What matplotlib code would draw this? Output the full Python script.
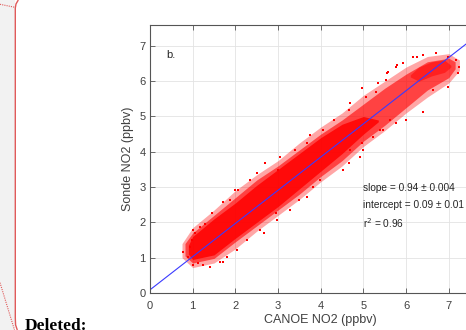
import matplotlib
matplotlib.use("Agg")
import matplotlib.pyplot as plt
import numpy as np

# ---- data ----
# outer (sparse) extent of the point cloud
out_x = [0.75, 1.0, 1.5, 2.0, 2.5, 3.0, 3.5, 4.0, 4.5, 5.0, 5.5, 6.0, 6.5, 7.0, 7.25]
out_lo = [1.00, 0.72, 0.85, 1.25, 1.75, 2.20, 2.65, 3.15, 3.60, 4.15, 4.60, 5.10, 5.55, 5.95, 6.30]
out_hi = [1.40, 1.85, 2.35, 2.90, 3.35, 3.75, 4.25, 4.70, 5.10, 5.60, 6.00, 6.40, 6.70, 6.78, 6.60]
# middle extent of the cloud
mid_x = [0.82, 1.0, 1.5, 2.0, 2.5, 3.0, 3.5, 4.0, 4.5, 5.0, 5.5, 6.0, 6.5, 7.0, 7.15]
mid_lo = [1.05, 0.85, 0.98, 1.45, 1.90, 2.35, 2.80, 3.30, 3.75, 4.30, 4.75, 5.25, 5.75, 6.10, 6.35]
mid_hi = [1.40, 1.70, 2.20, 2.70, 3.20, 3.60, 4.05, 4.50, 4.90, 5.35, 5.80, 6.20, 6.55, 6.65, 6.55]
# dense core of the cloud
core_x = [0.9, 1.0, 1.5, 2.0, 2.5, 3.0, 3.5, 4.0, 4.5, 5.0, 5.35]
core_lo = [1.10, 0.95, 1.08, 1.55, 2.00, 2.45, 2.95, 3.45, 3.95, 4.50, 4.85]
core_hi = [1.35, 1.60, 2.10, 2.55, 3.05, 3.50, 3.95, 4.40, 4.78, 5.00, 4.90]
# denser cluster near the top
cl_x = [6.1, 6.3, 6.6, 6.9, 7.05]
cl_lo = [6.12, 6.00, 6.15, 6.25, 6.40]
cl_hi = [6.18, 6.40, 6.55, 6.60, 6.45]
# scattered edge points
fringe_x = [0.78, 0.94, 0.90, 1.01, 1.13, 1.41, 1.64, 0.98, 1.05,
            1.01, 1.17, 1.45, 1.72, 1.87, 2.07, 2.34, 2.50, 2.70, 3.05, 3.40, 3.67, 3.75,
            1.80, 1.72, 2.27, 2.58, 2.66, 2.97, 3.28, 3.48, 3.67, 3.83, 3.98,
            4.67, 5.06, 5.30, 5.53, 5.57, 5.77, 5.92, 6.16, 6.39, 6.70, 6.98, 7.17, 7.25, 7.21,
            6.98, 6.62, 6.39, 6.00, 5.77, 5.45, 5.22, 4.98, 4.91, 4.67, 4.52, 6.25,
            4.96, 5.35, 5.55, 5.78, 4.69, 4.30, 4.06, 5.62, 5.39, 4.96, 4.69,
            2.00, 2.05, 3.00, 2.95, 1.25, 1.30]
fringe_y = [1.17, 1.31, 1.03, 0.79, 0.84, 0.75, 0.89, 1.50, 1.69,
            1.78, 1.88, 2.26, 2.59, 2.63, 2.92, 3.20, 3.39, 3.67, 3.86, 4.05, 4.24, 4.48,
            1.03, 0.89, 1.50, 1.78, 1.69, 2.07, 2.35, 2.63, 2.73, 3.01, 3.20,
            5.18, 5.56, 5.70, 6.03, 6.27, 6.41, 6.51, 6.69, 6.74, 6.79, 6.69, 6.60, 6.41, 6.22,
            5.84, 5.75, 5.14, 4.90, 4.81, 4.62, 4.43, 4.05, 3.86, 3.67, 3.48, 6.69,
            5.80, 5.94, 6.22, 6.46, 5.37, 4.90, 4.62, 4.90, 4.62, 4.24, 4.05,
            2.92, 1.22, 3.48, 2.27, 0.80, 1.95]
slope = 0.94
intercept = 0.09
fit_x = [0.0, 8.0]
x_ticks = [0, 1, 2, 3, 4, 5, 6, 7, 8]
y_ticks = [0, 1, 2, 3, 4, 5, 6, 7]
stats_lines = ["slope = 0.94 \u00b1 0.004", "intercept = 0.09 \u00b1 0.01", "r$^2$ = 0.96"]

plt.rcParams['font.family'] = ['Liberation Sans', 'DejaVu Sans']

W, H = 466, 330
fig = plt.figure(figsize=(W / 100, H / 100), dpi=100)

# ---- left margin: document comment pane ----
ov = fig.add_axes([0, 0, 1, 1], zorder=0)
ov.set_xlim(0, W)
ov.set_ylim(H, 0)
ov.axis('off')
ov.fill_between([0, 15.3], [0, 0], [H, H], color='#f2f2f2', lw=0)
ov.plot([18.3, 16.0, 15.3, 15.3, 15.6, 17.3], [0, 4, 8, 318, 325, 330],
        color='#e05a5a', lw=1.0, solid_capstyle='butt')
ov.plot([0, 15], [4.3, 7.3], color='#e05a5a', lw=0.8, ls=(0, (1, 1)))
ov.plot([0, 14.5], [282.7, 330], color='#e05a5a', lw=0.8, ls=(0, (1, 1)))
ov.text(25, 329.5, "Deleted:", family=['Liberation Serif', 'DejaVu Serif'],
        fontweight='bold', fontsize=12.5, va='baseline', ha='left', color='black')

# ---- main axes ----
left, right_px, top_px, bot_px = 150, 491.4, 24.7, 293
ax = fig.add_axes([left / W, 1 - bot_px / H, (right_px - left) / W, (bot_px - top_px) / H], zorder=1)
ax.set_xlim(0, 8)
ax.set_ylim(0, 7.6)
ax.set_facecolor('none')

ax.fill_between(out_x, out_lo, out_hi, color='#ff0000', alpha=0.35, lw=0)
ax.fill_between(mid_x, mid_lo, mid_hi, color='#ff0000', alpha=0.6, lw=0)
ax.fill_between(cl_x, cl_lo, cl_hi, color='#ff0000', alpha=0.5, lw=0)
ax.fill_between(core_x, core_lo, core_hi, color='#ff0000', alpha=0.85, lw=0)
ax.scatter(fringe_x, fringe_y, s=1.5, marker='s', color='#ff0000', lw=0)

fx = np.array(fit_x)
ax.plot(fx, slope * fx + intercept, color='#3a3aff', lw=0.8)

ax.set_xticks(x_ticks)
ax.set_yticks(y_ticks)
ax.grid(True, color='#e3e3e3', lw=0.6)
ax.set_axisbelow(True)
for s in ax.spines.values():
    s.set_color('#555555')
    s.set_linewidth(0.8)
ax.tick_params(direction='in', length=3.5, width=0.6, colors='#555555',
               labelcolor='#404040', labelsize=8, top=True, right=True)
ax.tick_params(axis='x', pad=6)
ax.tick_params(axis='y', pad=3)

ax.set_xlabel("CANOE NO2 (ppbv)", fontsize=9, color='#404040', labelpad=2)
ax.set_ylabel("Sonde NO2 (ppbv)", fontsize=9, color='#404040', labelpad=4)

ax.text(0.39, 6.75, "b.", fontsize=8, color='#262626', va='center', ha='left')
for t, yy in zip(stats_lines, [2.97, 2.49, 1.97]):
    ax.text(4.98, yy, t, fontsize=7.3, color='#262626', va='center', ha='left')

fig.savefig("out.png", dpi=100)
